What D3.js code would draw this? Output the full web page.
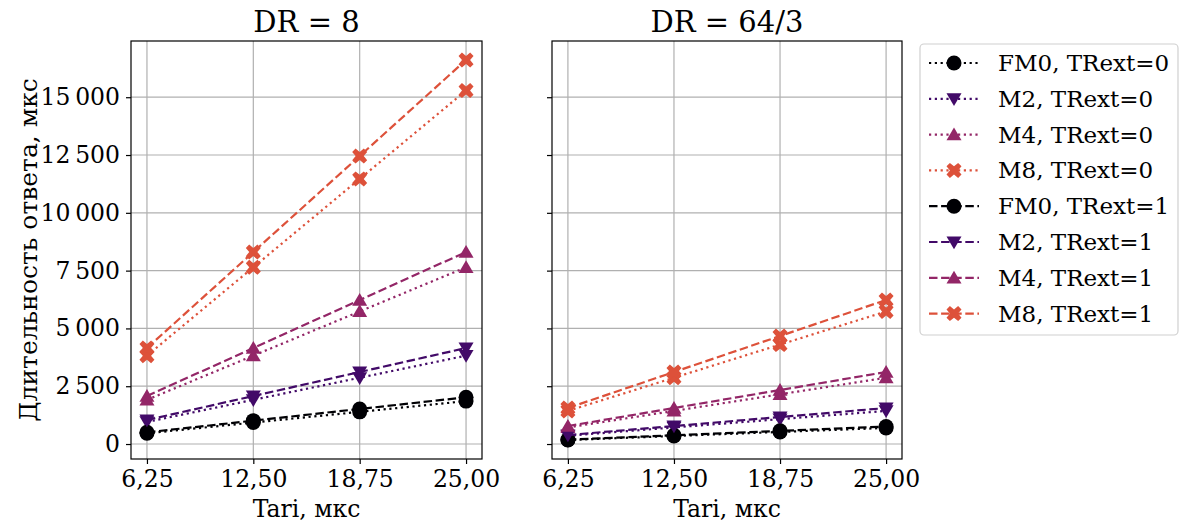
<!DOCTYPE html>
<html>
<head>
<meta charset="utf-8">
<script src="https://cdn.jsdelivr.net/npm/d3@7"></script>
<style>
  body { margin: 0; background: #fff; }
  svg text { font-family: "DejaVu Serif", serif; fill: #000; }
</style>
</head>
<body>
<div class="canvas"></div>
<script>
// x values (Tari, мкс)
const tari = [6.25, 12.5, 18.75, 25];
const xTickLabels = ["6,25", "12,50", "18,75", "25,00"];
const yTicks = [0, 2500, 5000, 7500, 10000, 12500, 15000];

const panelTitles = ["DR = 8", "DR = 64/3"];
const seriesNames = ["FM0, TRext=0", "M2, TRext=0", "M4, TRext=0", "M8, TRext=0",
                     "FM0, TRext=1", "M2, TRext=1", "M4, TRext=1", "M8, TRext=1"];

// DR = 8
const dr8_fm0_t0 = [464, 928, 1392, 1856];
const dr8_m2_t0  = [955, 1911, 2866, 3822];
const dr8_m4_t0  = [1911, 3822, 5734, 7645];
const dr8_m8_t0  = [3822, 7645, 11467, 15290];
const dr8_fm0_t1 = [505, 1011, 1516, 2021];
const dr8_m2_t1  = [1038, 2076, 3114, 4152];
const dr8_m4_t1  = [2076, 4152, 6229, 8305];
const dr8_m8_t1  = [4152, 8305, 12457, 16610];

// DR = 64/3
const dr64_fm0_t0 = [174, 348, 522, 696];
const dr64_m2_t0  = [358, 717, 1075, 1433];
const dr64_m4_t0  = [717, 1433, 2150, 2867];
const dr64_m8_t0  = [1433, 2867, 4300, 5733];
const dr64_fm0_t1 = [190, 379, 569, 758];
const dr64_m2_t1  = [389, 778, 1168, 1557];
const dr64_m4_t1  = [778, 1557, 2336, 3114];
const dr64_m8_t1  = [1557, 3114, 4671, 6229];

const panelData = [
    [dr8_fm0_t0, dr8_m2_t0, dr8_m4_t0, dr8_m8_t0, dr8_fm0_t1, dr8_m2_t1, dr8_m4_t1, dr8_m8_t1],
    [dr64_fm0_t0, dr64_m2_t0, dr64_m4_t0, dr64_m8_t0, dr64_fm0_t1, dr64_m2_t1, dr64_m4_t1, dr64_m8_t1]
];

const colors = ["#000004", "#420a68", "#932667", "#dd513a"];
const markers = ["circle", "down", "up", "x"];

const W = 1183, H = 524;
const panels = [{ x0: 131, x1: 482 }, { x0: 552, x1: 902 }];
const plotTop = 41, plotBottom = 459;
const tickFont = 23.5;
const legendFont = 23;
const markerSize = 15;

const svg = d3.select(".canvas")
    .append("svg")
    .attr("width", W)
    .attr("height", H);

// shared y, 5% margins like matplotlib
const all = panelData.flat(2);
const yMin = d3.min(all), yMax = d3.max(all);
const pad = (yMax - yMin) * 0.05;
const y = d3.scaleLinear().domain([yMin - pad, yMax + pad]).range([plotBottom, plotTop]);
const xPad = (d3.max(tari) - d3.min(tari)) * 0.05;

const fmtY = v => d3.format(",")(v).replace(/,/g, "\u2009");

function markerPath(kind, s) {
    const r = s / 2;
    if (kind === "circle") return d3.symbol(d3.symbolCircle, Math.PI * r * r)();
    if (kind === "down") return `M${-r},${-r * 0.75}L${r},${-r * 0.75}L0,${r * 0.95}Z`;
    if (kind === "up") return `M${-r},${r * 0.75}L${r},${r * 0.75}L0,${-r * 0.95}Z`;
    // filled X
    const a = r, b = r * 0.45;
    return `M${-a + b},${-a}L0,${-b * 1.2}L${a - b},${-a}L${a},${-a + b}L${b * 1.2},0L${a},${a - b}L${a - b},${a}L0,${b * 1.2}L${-a + b},${a}L${-a},${a - b}L${-b * 1.2},0L${-a},${-a + b}Z`;
}

const lw = 2.2;
const dotDash = "2.2,3.6";
const dashDash = "8.5,3.6";

panels.forEach((p, pi) => {
    const x = d3.scaleLinear()
        .domain([d3.min(tari) - xPad, d3.max(tari) + xPad])
        .range([p.x0, p.x1]);
    const g = svg.append("g");

    // grid
    g.selectAll(".gx").data(tari).enter().append("line")
        .attr("x1", d => x(d)).attr("x2", d => x(d))
        .attr("y1", plotTop).attr("y2", plotBottom)
        .attr("stroke", "#b0b0b0").attr("stroke-width", 1.2);
    g.selectAll(".gy").data(yTicks).enter().append("line")
        .attr("x1", p.x0).attr("x2", p.x1)
        .attr("y1", d => y(d)).attr("y2", d => y(d))
        .attr("stroke", "#b0b0b0").attr("stroke-width", 1.2);

    // lines + markers
    const line = d3.line().x((d, i) => x(tari[i])).y(d => y(d));
    panelData[pi].forEach((vals, si) => {
        const c = colors[si % 4];
        g.append("path")
            .attr("d", line(vals))
            .attr("fill", "none")
            .attr("stroke", c)
            .attr("stroke-width", lw)
            .attr("stroke-dasharray", si < 4 ? dotDash : dashDash);
        g.selectAll(null).data(vals).enter().append("path")
            .attr("d", markerPath(markers[si % 4], markerSize))
            .attr("transform", (d, i) => "translate(" + x(tari[i]) + "," + y(d) + ")")
            .attr("fill", c);
    });

    // frame
    g.append("rect")
        .attr("x", p.x0).attr("y", plotTop)
        .attr("width", p.x1 - p.x0).attr("height", plotBottom - plotTop)
        .attr("fill", "none").attr("stroke", "#000").attr("stroke-width", 1.2);

    // x axis
    const xAxis = d3.axisBottom(x).tickValues(tari)
        .tickFormat((d, i) => xTickLabels[i]).tickSize(5).tickPadding(6);
    const xa = g.append("g").attr("transform", "translate(0," + plotBottom + ")").call(xAxis);
    xa.select(".domain").remove();
    xa.selectAll("line").attr("stroke-width", 1.2);
    xa.selectAll("text").attr("font-size", tickFont).attr("font-family", "DejaVu Serif");

    // y axis
    const yAxis = d3.axisLeft(y).tickValues(yTicks)
        .tickFormat(pi === 0 ? fmtY : "").tickSize(5).tickPadding(6);
    const ya = g.append("g").attr("transform", "translate(" + p.x0 + ",0)").call(yAxis);
    ya.select(".domain").remove();
    ya.selectAll("line").attr("stroke-width", 1.2);
    ya.selectAll("text").attr("font-size", tickFont).attr("font-family", "DejaVu Serif");

    g.append("text")
        .attr("x", (p.x0 + p.x1) / 2).attr("y", 32)
        .attr("text-anchor", "middle").attr("font-size", 29)
        .text(panelTitles[pi]);

    g.append("text")
        .attr("x", (p.x0 + p.x1) / 2).attr("y", 517)
        .attr("text-anchor", "middle").attr("font-size", tickFont)
        .text("Tari, мкс");
});

// y label
svg.append("text")
    .attr("transform", "translate(37," + (plotTop + plotBottom) / 2 + ") rotate(-90)")
    .attr("text-anchor", "middle").attr("font-size", 25)
    .text("Длительность ответа, мкс");

// legend
const lg = svg.append("g");
lg.append("rect")
    .attr("x", 920).attr("y", 44).attr("width", 258).attr("height", 291)
    .attr("rx", 4).attr("fill", "#fff").attr("stroke", "#d0d0d0").attr("stroke-width", 1.2);
seriesNames.forEach((name, si) => {
    const yy = 63 + si * 35.8;
    const c = colors[si % 4];
    lg.append("line")
        .attr("x1", 929).attr("x2", 979).attr("y1", yy).attr("y2", yy)
        .attr("stroke", c).attr("stroke-width", lw)
        .attr("stroke-dasharray", si < 4 ? dotDash : dashDash);
    lg.append("path")
        .attr("d", markerPath(markers[si % 4], markerSize))
        .attr("transform", "translate(954," + yy + ")")
        .attr("fill", c);
    lg.append("text")
        .attr("x", 998).attr("y", yy + 8)
        .attr("font-size", legendFont)
        .text(name);
});
</script>
</body>
</html>
